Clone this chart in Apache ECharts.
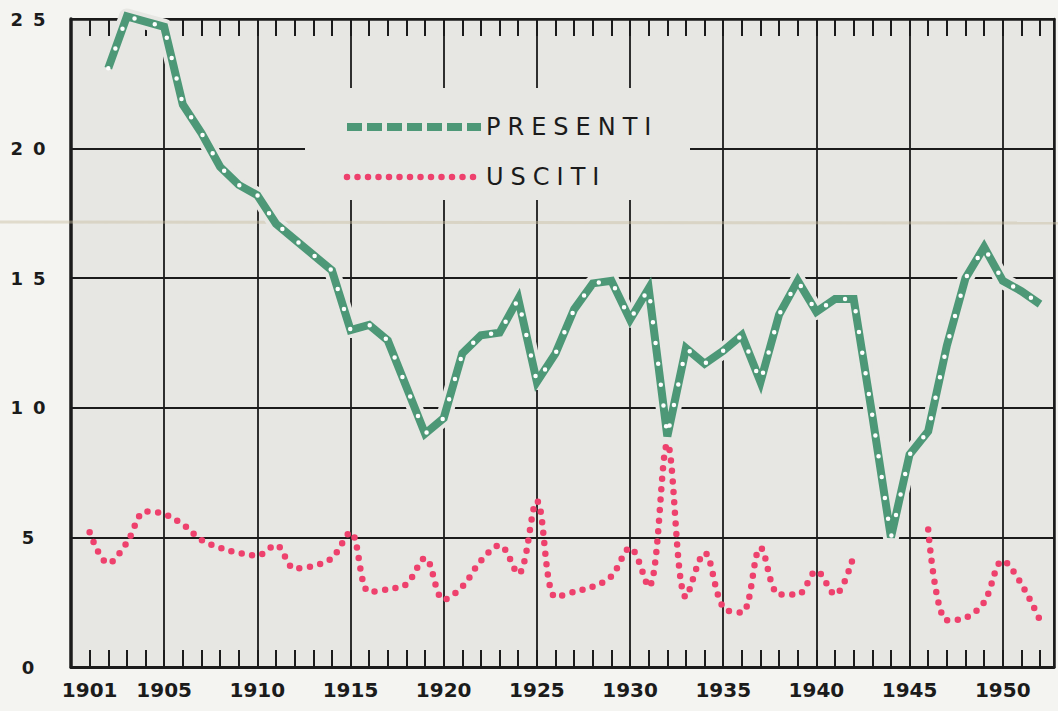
<!DOCTYPE html>
<html><head><meta charset="utf-8">
<script src="https://cdn.jsdelivr.net/npm/echarts@6/dist/echarts.min.js"></script>
<style>
html,body{margin:0;padding:0;background:#f4f4f1;}
#chart{width:1058px;height:711px;}
#chart svg text[style*="18px"]{letter-spacing:10px;}
#chart svg text[style*="24px"]{letter-spacing:7px;}
</style></head><body><div id="chart"></div>
<script>
const years = [1901,1902,1903,1904,1905,1906,1907,1908,1909,1910,
  1911,1912,1913,1914,1915,1916,1917,1918,1919,1920,
  1921,1922,1923,1924,1925,1926,1927,1928,1929,1930,
  1931,1932,1933,1934,1935,1936,1937,1938,1939,1940,
  1941,1942,1943,1944,1945,1946,1947,1948,1949,1950,
  1951,1952];
const presenti = [null,23.1,25.1,24.9,24.7,21.7,20.6,19.3,18.6,18.2,
  17.1,16.5,15.9,15.3,13.0,13.2,12.6,10.8,9.0,9.6,
  12.1,12.8,12.9,14.2,11.0,12.1,13.8,14.8,14.9,13.4,
  14.6,8.9,12.3,11.7,12.2,12.8,11.0,13.6,14.9,13.7,
  14.2,14.2,9.7,5.0,8.2,9.1,12.4,15.0,16.2,14.9,
  14.5,14.0];
const usciti = [5.2,4.0,4.8,6.0,5.9,5.5,4.9,4.6,4.4,4.3,
  4.7,3.8,3.9,4.2,5.2,2.9,3.0,3.2,4.2,2.6,
  3.1,4.1,4.7,3.6,6.4,2.7,2.9,3.1,3.5,4.6,
  3.1,8.6,2.7,4.4,2.3,2.1,4.6,2.8,2.8,3.7,
  2.8,4.3,null,null,null,5.3,1.8,1.9,2.5,4.1,
  3.2,1.8];
const labelYears = [1901,1905,1910,1915,1920,1925,1930,1935,1940,1945,1950];
const seriesNames = ['PRESENTI','USCITI'];

const BG = '#e7e7e3';
const INK = '#1b1b1b';
const GREEN = '#4d9877';
const RED = '#ee416d';
const pairs = vals => years.map((y, i) => [y, vals[i]]);

const chart = echarts.init(document.getElementById('chart'), null, {renderer: 'svg'});
const xCommon = {type: 'value', min: 1900, max: 1952.75, interval: 5};
chart.setOption({
  backgroundColor: '#f4f4f1',
  animation: false,
  grid: {left: 71, right: 4, top: 19, bottom: 44, show: true, backgroundColor: BG, borderWidth: 0},
  xAxis: [
    Object.assign({}, xCommon, {
      position: 'bottom',
      axisLine: {show: true, onZero: false, lineStyle: {color: INK, width: 3}},
      axisTick: {show: true, inside: true, length: 17, customValues: years, lineStyle: {color: INK, width: 2}},
      axisLabel: {customValues: labelYears, margin: 13, color: INK, fontSize: 20, fontWeight: 'bold',
        fontFamily: 'DejaVu Sans', formatter: v => String(v)},
      splitLine: {show: false}
    }),
    Object.assign({}, xCommon, {
      position: 'top',
      axisLine: {show: true, onZero: false, lineStyle: {color: INK, width: 2.5}},
      axisTick: {show: true, inside: true, length: 17, customValues: years, lineStyle: {color: INK, width: 2}},
      axisLabel: {show: false},
      splitLine: {show: false}
    }),
    Object.assign({}, xCommon, {
      position: 'bottom',
      axisLine: {show: false}, axisTick: {show: false}, axisLabel: {show: false},
      splitLine: {show: true, lineStyle: {color: INK, width: 1.8}}
    })
  ],
  yAxis: [
    {type: 'value', position: 'left', min: 0, max: 25, interval: 5,
      axisLine: {show: true, onZero: false, lineStyle: {color: INK, width: 3.5}},
      axisTick: {show: false},
      axisLabel: {margin: 38, align: 'center', color: INK, fontSize: 18, fontWeight: 'bold', fontFamily: 'DejaVu Sans'},
      splitLine: {show: true, lineStyle: {color: INK, width: 1.8}}},
    {type: 'value', position: 'right', min: 0, max: 25, interval: 5,
      axisLine: {show: true, onZero: false, lineStyle: {color: INK, width: 2.5}},
      axisTick: {show: false}, axisLabel: {show: false}, splitLine: {show: false}}
  ],
  legend: {
    data: [
      {name: seriesNames[0], lineStyle: {type: [15, 5]}},
      {name: seriesNames[1]}
    ],
    orient: 'vertical', left: 338, top: 110,
    itemWidth: 134, itemHeight: 10, itemGap: 26, selectedMode: false, z: 5,
    textStyle: {fontSize: 24, fontFamily: 'DejaVu Sans', color: INK},
    itemStyle: {color: 'rgba(0,0,0,0)', borderWidth: 0, opacity: 0},
    lineStyle: {width: 'inherit', type: 'inherit', cap: 'inherit'}
  },
  graphic: [
    {type: 'rect', z: 1, silent: true, shape: {x: 305, y: 88, width: 385, height: 112}, style: {fill: BG}},
    {type: 'line', z: 1, silent: true, shape: {x1: 0, y1: 222, x2: 1058, y2: 223},
      style: {stroke: 'rgba(200,188,160,0.45)', lineWidth: 3}}
  ],
  series: [
    {name: 'halo', type: 'line', data: pairs(presenti), symbol: 'none', silent: true, clip: false, z: 2,
      lineStyle: {color: BG, width: 16, cap: 'round', join: 'round'}},
    {name: seriesNames[0], type: 'line', data: pairs(presenti), symbol: 'none', clip: false, z: 3,
      lineStyle: {color: GREEN, width: 8, type: 'solid', join: 'miter'}},
    {name: 'presenti-dots', type: 'line', data: pairs(presenti), symbol: 'none', clip: false, silent: true, z: 4,
      lineStyle: {color: '#ffffff', width: 4.5, type: [0, 21], cap: 'round'}},
    {name: seriesNames[1], type: 'line', data: pairs(usciti), symbol: 'none', smooth: 0.35, connectNulls: false, z: 4,
      lineStyle: {color: RED, width: 6.5, type: [0, 10.5], cap: 'round'}}
  ]
});
</script></body></html>
